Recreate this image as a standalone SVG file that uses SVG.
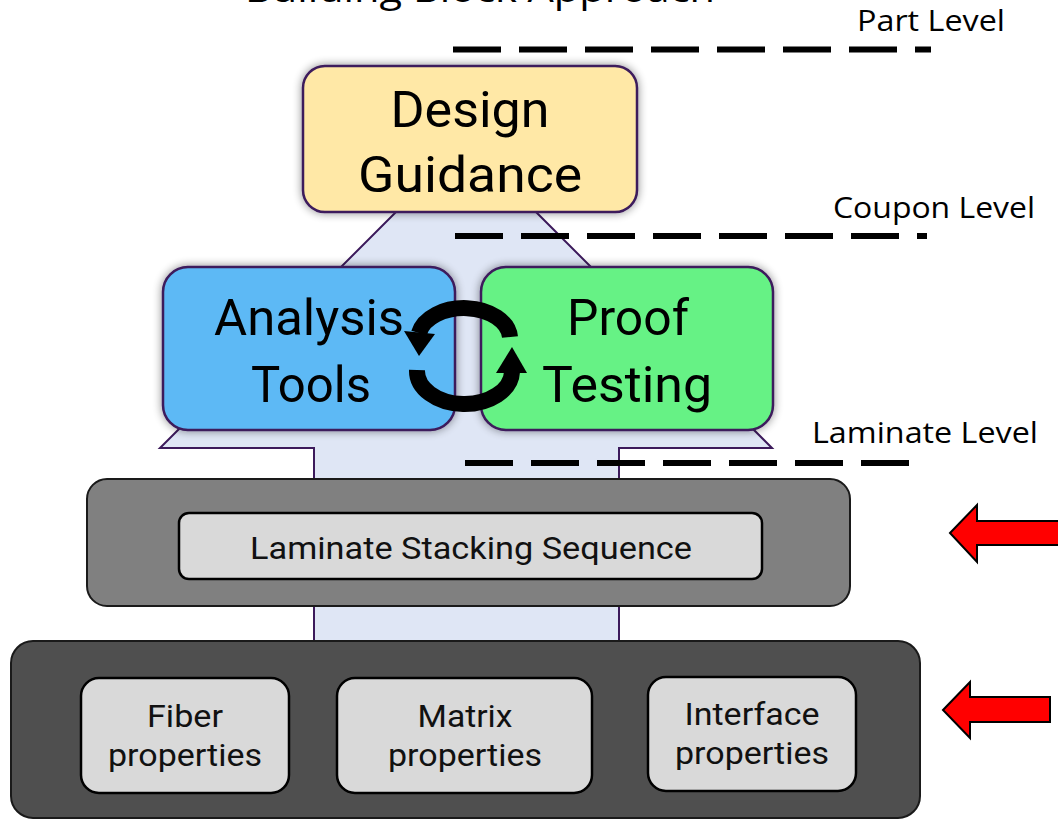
<svg xmlns="http://www.w3.org/2000/svg" width="1058" height="821" viewBox="0 0 1058 821">
<style>
.big{font-family:Roboto,"Liberation Sans",sans-serif;font-size:50px;fill:#000;text-anchor:middle}
.mid{font-family:Roboto,"Liberation Sans",sans-serif;font-size:31px;fill:#111;text-anchor:middle}
.lvl{font-family:"Open Sans","DejaVu Sans",sans-serif;font-size:30px;fill:#000}
.dash{stroke:#000;stroke-width:6;stroke-dasharray:48 18;fill:none}
.top{stroke:#3C1A5B;stroke-width:2.5}
.inner{fill:#D9D9D9;stroke:#000;stroke-width:2.5}
.red{fill:#FF0000;stroke:#000;stroke-width:2;stroke-linejoin:miter}
</style>
<defs>
<filter id="sh" x="-20%" y="-20%" width="140%" height="140%">
<feGaussianBlur in="SourceAlpha" stdDeviation="5"/>
<feComponentTransfer><feFuncA type="linear" slope="0.45"/></feComponentTransfer>
<feMerge><feMergeNode/><feMergeNode in="SourceGraphic"/></feMerge>
</filter>
</defs>
<rect width="1058" height="821" fill="#fff"/>
<text x="480" y="2" font-family="Open Sans, DejaVu Sans, sans-serif" font-size="36" text-anchor="middle" textLength="470" lengthAdjust="spacingAndGlyphs">Building Block Approach</text>

<g id="flow-arrow">
<polygon points="466,142 772,448 619,448 619,645 314,645 314,448 160,448" fill="#DFE6F5" stroke="#3C1A5B" stroke-width="2"/>
</g>

<g id="connectors">
<line class="dash" x1="453" y1="49.5" x2="931" y2="49.5"/>
<line class="dash" x1="455" y1="236" x2="927" y2="236"/>
<line class="dash" x1="465" y1="463" x2="909" y2="463"/>
</g>

<g id="design-guidance">
<rect class="top" x="303" y="66" width="334" height="146" rx="22" fill="#FFE8A6" filter="url(#sh)"/>
<text class="big" x="470" y="127" textLength="159" lengthAdjust="spacingAndGlyphs">Design</text>
<text class="big" x="470" y="192" textLength="224" lengthAdjust="spacingAndGlyphs">Guidance</text>
</g>

<g id="analysis-tools">
<rect class="top" x="163" y="267" width="292" height="163" rx="25" fill="#5DB9F5" filter="url(#sh)"/>
<text class="big" x="309" y="335" textLength="190" lengthAdjust="spacingAndGlyphs">Analysis</text>
<text class="big" x="311" y="402" textLength="120" lengthAdjust="spacingAndGlyphs">Tools</text>
</g>

<g id="proof-testing">
<rect class="top" x="481" y="267" width="292" height="163" rx="25" fill="#66F285" filter="url(#sh)"/>
<text class="big" x="628" y="335" textLength="122" lengthAdjust="spacingAndGlyphs">Proof</text>
<text class="big" x="627" y="402" textLength="170" lengthAdjust="spacingAndGlyphs">Testing</text>
</g>

<g id="cycle">
<path d="M510 337 A46 31 0 0 0 419 333" fill="none" stroke="#000" stroke-width="16"/>
<polygon points="404,331 435,334 419,356" fill="#000"/>
<path d="M417 370 A46 32 0 0 0 512 372" fill="none" stroke="#000" stroke-width="16"/>
<polygon points="496,373 527,373 512,347" fill="#000"/>
</g>

<g id="levels">
<text class="lvl" x="857" y="31" textLength="148" lengthAdjust="spacingAndGlyphs">Part Level</text>
<text class="lvl" x="833" y="218" textLength="202" lengthAdjust="spacingAndGlyphs">Coupon Level</text>
<text class="lvl" x="812" y="443" textLength="226" lengthAdjust="spacingAndGlyphs">Laminate Level</text>
</g>

<g id="laminate">
<rect x="87" y="479" width="763" height="127" rx="20" fill="#808080" stroke="#1a1a1a" stroke-width="2"/>
<rect class="inner" x="179" y="513" width="583" height="66" rx="10"/>
<text class="mid" x="471" y="559" textLength="442" lengthAdjust="spacingAndGlyphs">Laminate Stacking Sequence</text>
</g>

<g id="constituents">
<rect x="11" y="641" width="909" height="177" rx="22" fill="#4F4F4F" stroke="#1a1a1a" stroke-width="2"/>
</g>
<g id="fiber">
<rect class="inner" x="81" y="678" width="208" height="115" rx="18"/>
<text class="mid" x="185" y="727" textLength="76" lengthAdjust="spacingAndGlyphs">Fiber</text>
<text class="mid" x="185" y="766" textLength="154" lengthAdjust="spacingAndGlyphs">properties</text>
</g>
<g id="matrix">
<rect class="inner" x="337" y="678" width="255" height="115" rx="18"/>
<text class="mid" x="465" y="727" textLength="95" lengthAdjust="spacingAndGlyphs">Matrix</text>
<text class="mid" x="465" y="766" textLength="154" lengthAdjust="spacingAndGlyphs">properties</text>
</g>
<g id="interface">
<rect class="inner" x="648" y="677" width="208" height="114" rx="18"/>
<text class="mid" x="752" y="725" textLength="135" lengthAdjust="spacingAndGlyphs">Interface</text>
<text class="mid" x="752" y="764" textLength="154" lengthAdjust="spacingAndGlyphs">properties</text>
</g>

<g id="red-arrows">
<polygon class="red" points="950,533 977,505 977,521 1060,521 1060,545 977,545 977,562"/>
<polygon class="red" points="943,710 970,682 970,697 1050,697 1050,722 970,722 970,738"/>
</g>
</svg>
